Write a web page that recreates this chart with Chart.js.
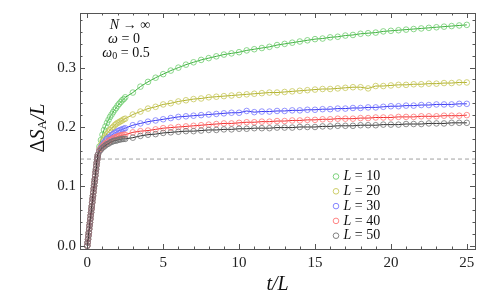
<!DOCTYPE html>
<html>
<head>
<meta charset="utf-8">
<script src="https://cdn.jsdelivr.net/npm/chart.js@4.4.1/dist/chart.umd.min.js"></script>
<style>
html, body { margin: 0; padding: 0; background: #fff; }
</style>
</head>
<body>
<canvas id="myChart" width="493" height="300"></canvas>
<script>
// system sizes, one curve each
var sizes = [10, 20, 30, 40, 50];

// early linear growth, the same for every L (curves overlap there)
var riseT = [0, 0.025, 0.05, 0.075, 0.1, 0.125, 0.15, 0.175, 0.2, 0.225, 0.25, 0.275, 0.3, 0.325, 0.35,
             0.375, 0.4, 0.425, 0.45, 0.475, 0.5, 0.525, 0.55, 0.575, 0.6, 0.625, 0.65, 0.675, 0.7];
var riseY = [0, 0.0056, 0.011, 0.017, 0.022, 0.028, 0.034, 0.039, 0.045, 0.051, 0.056, 0.062, 0.067, 0.073, 0.079,
             0.084, 0.090, 0.096, 0.101, 0.107, 0.112, 0.118, 0.124, 0.129, 0.135, 0.140, 0.145, 0.149, 0.153];

// dense part after the bend
var bendT = [0.8, 0.9, 1.0, 1.1, 1.2, 1.3, 1.4, 1.5, 1.6, 1.7, 1.8, 1.9, 2.0, 2.1, 2.2, 2.3, 2.4, 2.5];
var bendL10 = [.167,.178,.187,.195,.201,.207,.212,.217,.221,.225,.229,.232,.236,.239,.242,.245,.247,.250];
var bendL20 = [.163,.170,.176,.181,.185,.189,.192,.195,.198,.200,.203,.205,.207,.208,.210,.211,.213,.214];
var bendL30 = [.161,.166,.170,.174,.177,.180,.182,.184,.186,.188,.190,.191,.193,.194,.195,.196,.197,.198];
var bendL40 = [.160,.164,.167,.170,.172,.174,.176,.178,.179,.181,.182,.183,.184,.185,.186,.186,.187,.187];
var bendL50 = [.159,.162,.165,.167,.169,.171,.172,.174,.175,.176,.177,.177,.178,.179,.179,.180,.180,.180];

// sparse tail, t/L = 3 ... 25 every 0.5
var tailT = [3, 3.5, 4, 4.5, 5, 5.5, 6, 6.5, 7,
             7.5, 8, 8.5, 9, 9.5, 10, 10.5, 11, 11.5,
             12, 12.5, 13, 13.5, 14, 14.5, 15, 15.5, 16,
             16.5, 17, 17.5, 18, 18.5, 19, 19.5, 20, 20.5,
             21, 21.5, 22, 22.5, 23, 23.5, 24, 24.5, 25];
var tailL10 = [.258,.268,.276,.283,.289,.295,.300,.305,.309,
               .313,.316,.319,.322,.324,.326,.329,.331,.333,
               .335,.338,.340,.342,.344,.346,.348,.349,.351,
               .352,.354,.355,.357,.358,.359,.361,.362,.363,
               .364,.365,.366,.367,.368,.369,.370,.371,.372];
var tailL20 = [.221,.226,.231,.234,.238,.240,.243,.245,.247,
               .248,.250,.251,.252,.253,.254,.255,.256,.257,
               .258,.258,.259,.260,.261,.262,.263,.264,.264,
               .265,.266,.267,.267,.265,.269,.269,.270,.271,
               .271,.272,.272,.273,.273,.274,.274,.275,.275];
var tailL30 = [.203,.206,.209,.211,.213,.215,.217,.218,.219,
               .220,.221,.222,.223,.224,.224,.227,.225,.226,
               .226,.227,.227,.228,.228,.229,.229,.230,.230,
               .231,.231,.232,.232,.233,.233,.234,.235,.235,
               .236,.236,.237,.237,.238,.238,.238,.239,.239];
var tailL40 = [.191,.193,.194,.196,.198,.199,.200,.201,.202,
               .203,.204,.205,.206,.206,.207,.208,.208,.209,
               .209,.210,.210,.211,.211,.212,.212,.213,.213,
               .214,.214,.214,.215,.215,.216,.216,.216,.217,
               .217,.217,.218,.218,.218,.219,.219,.219,.220];
var tailL50 = [.182,.185,.187,.188,.190,.191,.192,.193,.193,
               .194,.195,.195,.196,.196,.197,.197,.198,.198,
               .198,.199,.199,.199,.200,.200,.200,.201,.201,
               .202,.202,.202,.203,.203,.203,.204,.204,.204,
               .205,.205,.205,.206,.206,.206,.207,.207,.207];

var bends = [bendL10, bendL20, bendL30, bendL40, bendL50];
var tails = [tailL10, tailL20, tailL30, tailL40, tailL50];

var plateau = 0.146;   // dashed reference line
var xTicks = [0, 5, 10, 15, 20, 25];
var yTicks = [0, 0.1, 0.2, 0.3];

var lineColors = ['rgb(60,175,60)', 'rgb(175,175,40)', 'rgb(50,50,240)', 'rgb(240,40,40)', 'rgb(40,40,40)'];
var markColors = ['rgb(110,205,110)', 'rgb(200,200,90)', 'rgb(120,120,255)', 'rgb(255,120,120)', 'rgb(115,115,115)'];

var serif = "'Liberation Serif', 'DejaVu Serif', serif";

function makePoints(bend, tail) {
  var pts = [];
  riseT.forEach(function (t, i) { pts.push({x: t, y: riseY[i]}); });
  bendT.forEach(function (t, i) { pts.push({x: t, y: bend[i]}); });
  tailT.forEach(function (t, i) { pts.push({x: t, y: tail[i]}); });
  return pts;
}

var datasets = [];
sizes.forEach(function (L, i) {
  datasets.push({
    label: 'L = ' + L,
    data: makePoints(bends[i], tails[i]),
    showLine: true,
    borderColor: lineColors[i],
    borderWidth: 1,
    pointRadius: 2.8,
    pointBorderWidth: 0.8,
    pointBorderColor: markColors[i],
    pointBackgroundColor: 'rgba(0,0,0,0)',
    order: sizes.length - i
  });
});
datasets.push({
  label: 'plateau',
  data: [{x: -0.48, y: plateau}, {x: 25.54, y: plateau}],
  showLine: true,
  borderColor: 'rgb(160,160,160)',
  borderWidth: 1,
  borderDash: [4, 3],
  pointRadius: 0,
  order: 10
});

// draw several runs of text with their own fonts side by side
function mixedText(ctx, parts, cx, cy) {
  var w = 0;
  parts.forEach(function (p) { ctx.font = p[1]; w += ctx.measureText(p[0]).width; });
  var x = cx - w / 2;
  parts.forEach(function (p) {
    ctx.font = p[1];
    ctx.fillText(p[0], x, cy + (p[2] || 0));
    x += ctx.measureText(p[0]).width;
  });
}

var framePlugin = {
  id: 'frame',
  afterDraw: function (chart) {
    var ctx = chart.ctx, a = chart.chartArea;
    var x = chart.scales.x, y = chart.scales.y;
    ctx.save();
    ctx.strokeStyle = '#555';
    ctx.lineWidth = 1;
    ctx.strokeRect(Math.round(a.left) + 0.5, Math.round(a.top) + 0.5,
                   Math.round(a.right - a.left), Math.round(a.bottom - a.top));
    ctx.beginPath();
    for (var v = 0; v <= 25; v++) {
      var px = Math.round(x.getPixelForValue(v)) + 0.5;
      var len = v % 5 === 0 ? 5 : 2.5;
      ctx.moveTo(px, a.bottom); ctx.lineTo(px, a.bottom - len);
      ctx.moveTo(px, a.top); ctx.lineTo(px, a.top + len);
    }
    for (var k = 0; k <= 19; k++) {
      var py = Math.round(y.getPixelForValue(k * 0.02)) + 0.5;
      var ln = k % 5 === 0 ? 5 : 2.5;
      ctx.moveTo(a.left, py); ctx.lineTo(a.left + ln, py);
      ctx.moveTo(a.right, py); ctx.lineTo(a.right - ln, py);
    }
    ctx.stroke();

    ctx.fillStyle = '#111';
    ctx.textBaseline = 'middle';
    var it14 = 'italic 14px ' + serif, up14 = '14px ' + serif;
    mixedText(ctx, [['N', it14], [' \u2192 \u221E', up14]], 130, 25);
    mixedText(ctx, [['\u03C9', it14], [' = 0', up14]], 124, 39.5);
    mixedText(ctx, [['\u03C9', it14], ['0', '10px ' + serif, 3], [' = 0.5', up14]], 126, 53);

    // legend
    sizes.forEach(function (L, i) {
      var ry = 176.5 + i * 14.8;
      ctx.beginPath();
      ctx.strokeStyle = markColors[i];
      ctx.lineWidth = 0.9;
      ctx.arc(336, ry, 2.8, 0, Math.PI * 2);
      ctx.stroke();
      ctx.fillStyle = '#111';
      ctx.textAlign = 'left';
      ctx.font = it14;
      ctx.fillText('L', 343.5, ry);
      var lw = ctx.measureText('L').width;
      ctx.font = up14;
      ctx.fillText(' = ' + L, 343.5 + lw, ry);
    });

    // y axis title
    ctx.translate(39, 128);
    ctx.rotate(-Math.PI / 2);
    var it20 = 'italic 20px ' + serif, up20 = '20px ' + serif;
    mixedText(ctx, [['\u0394', up20], ['S', it20], ['A', '13px ' + serif, 4], ['/', it20], ['L', it20]], 0, 0);
    ctx.restore();
  }
};

var config = {
  type: 'scatter',
  data: { datasets: datasets },
  options: {
    responsive: false,
    animation: false,
    layout: { padding: { left: 0, right: 18, top: 7, bottom: 0 } },
    plugins: { legend: { display: false }, tooltip: { enabled: false } },
    scales: {
      x: {
        type: 'linear', min: -0.48, max: 25.54,
        afterBuildTicks: function (s) { s.ticks = xTicks.map(function (v) { return {value: v}; }); },
        afterFit: function (s) { s.height = 51; },
        grid: { display: false, drawTicks: false },
        border: { display: false },
        ticks: { padding: 5, color: '#222', font: { family: serif, size: 15 },
                 callback: function (v) { return String(v); } },
        title: { display: true, text: 't/L', color: '#111',
                 font: { family: serif, size: 20, style: 'italic' }, padding: { top: 0, bottom: 3 } }
      },
      y: {
        type: 'linear', min: -0.0055, max: 0.392,
        afterBuildTicks: function (s) { s.ticks = yTicks.map(function (v) { return {value: v}; }); },
        afterFit: function (s) { s.width = 80; },
        grid: { display: false, drawTicks: false },
        border: { display: false },
        ticks: { padding: 4, color: '#222', font: { family: serif, size: 15 },
                 callback: function (v) { return v.toFixed(1); } }
      }
    }
  },
  plugins: [framePlugin]
};

var myChart = new Chart(document.getElementById('myChart'), config);
</script>
</body>
</html>
